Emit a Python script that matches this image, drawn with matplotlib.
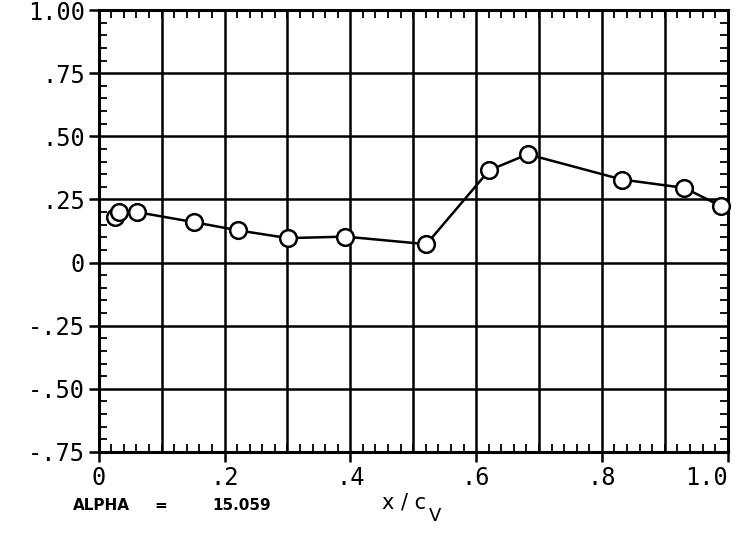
import matplotlib
matplotlib.use('Agg')
import matplotlib.pyplot as plt
from matplotlib.ticker import MultipleLocator, FixedLocator, FixedFormatter

# data
x_c = [0.026, 0.032, 0.061, 0.152, 0.221, 0.301, 0.392, 0.521, 0.621, 0.682, 0.832, 0.931, 0.990]
y_val = [0.180, 0.200, 0.200, 0.160, 0.128, 0.097, 0.103, 0.073, 0.366, 0.429, 0.329, 0.296, 0.223]

x_ticks = [0, 0.2, 0.4, 0.6, 0.8, 1.0]
x_labels = ['0', '.2', '.4', '.6', '.8', '1.0']
y_ticks = [-0.75, -0.5, -0.25, 0, 0.25, 0.5, 0.75, 1.0]
y_labels = ['-.75', '-.50', '-.25', '0', '.25', '.50', '.75', '1.00']
x_grid = [0.1, 0.2, 0.3, 0.4, 0.5, 0.6, 0.7, 0.8, 0.9]

fig = plt.figure(figsize=(7.46, 5.33), dpi=100)
ax = fig.add_axes([0.1323, 0.152, 0.8432, 0.829])

# grid
for gx in x_grid:
    ax.axvline(gx, color='black', lw=1.8, zorder=1)
for gy in y_ticks:
    ax.axhline(gy, color='black', lw=1.8, zorder=1)

ax.plot(x_c, y_val, color='black', lw=1.8, marker='o', ms=12, mfc='white',
        mec='black', mew=1.8, zorder=3, clip_on=False)

ax.set_xlim(0, 1.0)
ax.set_ylim(-0.75, 1.0)

ax.xaxis.set_major_locator(FixedLocator(x_ticks))
ax.xaxis.set_major_formatter(FixedFormatter(x_labels))
ax.yaxis.set_major_locator(FixedLocator(y_ticks))
ax.yaxis.set_major_formatter(FixedFormatter(y_labels))
ax.xaxis.set_minor_locator(MultipleLocator(0.02))
ax.yaxis.set_minor_locator(MultipleLocator(0.05))

ax.tick_params(which='major', direction='out', length=7, width=1.8,
               labelsize=17, pad=3)
ax.tick_params(which='minor', direction='in', length=6, width=1.3,
               top=True, right=True)
for lab in ax.get_xticklabels() + ax.get_yticklabels():
    lab.set_family('DejaVu Sans Mono')
ax.get_xticklabels()[-1].set_horizontalalignment('right')

for s in ax.spines.values():
    s.set_linewidth(2.2)

fig.text(0.098, 0.043, 'ALPHA', fontsize=11, fontweight='bold', family='DejaVu Sans')
fig.text(0.207, 0.043, '=', fontsize=11, fontweight='bold', family='DejaVu Sans')
fig.text(0.285, 0.043, '15.059', fontsize=11, fontweight='bold', family='DejaVu Sans')
fig.text(0.512, 0.046, 'x / c', fontsize=15, family='DejaVu Sans')
fig.text(0.575, 0.022, 'V', fontsize=13, family='DejaVu Sans')

fig.savefig('out.png', dpi=100)
